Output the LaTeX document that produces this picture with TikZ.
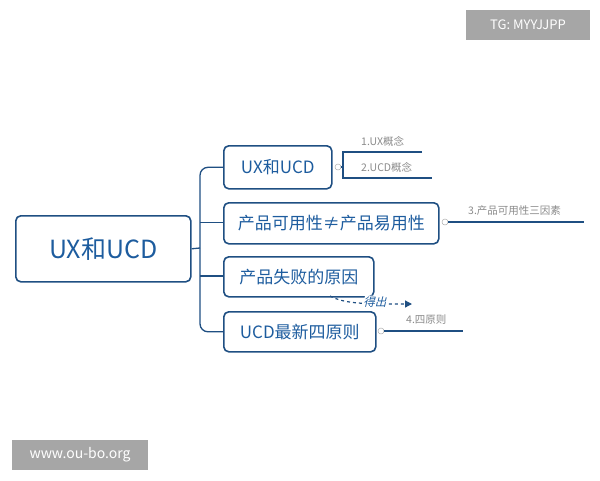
\documentclass[tikz,border=0pt]{standalone}
\usepackage{fontspec}
\setmainfont{Noto Sans CJK SC}
\usetikzlibrary{arrows.meta}
\definecolor{bd}{HTML}{1F4F82}
\definecolor{tx}{HTML}{1D5C9E}
\definecolor{gr}{HTML}{8A8A8A}
\begin{document}
\begin{tikzpicture}[x=1pt,y=-1pt,
  box/.style={draw=bd,line width=1.6pt,rounded corners=5pt,text=tx,inner sep=0pt,anchor=north west},
  lab/.style={text=gr,font=\fontsize{10.5}{11}\selectfont,anchor=west,inner sep=0pt},
  ln/.style={draw=bd,line width=1.3pt},
  dot/.style={circle,draw=gr!70,fill=white,inner sep=0pt,minimum size=6pt,line width=0.5pt},
  tag/.style={fill=gray!70,text=white,inner sep=0pt,font=\fontsize{13}{14}\selectfont}]
\useasboundingbox (0,0) rectangle (600,480);
\node[box,minimum width=175pt,minimum height=66pt,font=\fontsize{25}{27}\selectfont] (root) at (15,215) {UX和UCD};
\node[box,minimum width=108pt,minimum height=43pt,font=\fontsize{17}{18}\selectfont] (c1) at (223,145) {UX和UCD};
\node[box,minimum width=215pt,minimum height=41pt,font=\fontsize{17}{18}\selectfont] (c2) at (223,202) {产品可用性≠产品易用性};
\node[box,minimum width=150pt,minimum height=40pt,font=\fontsize{17}{18}\selectfont] (c3) at (223,256) {产品失败的原因};
\node[box,minimum width=152pt,minimum height=40pt,font=\fontsize{17}{18}\selectfont] (c4) at (223,311) {UCD最新四原则};
\coordinate (tr) at (200,248);
\draw[ln] (root.east) -- (tr);
\draw[ln,rounded corners=8pt] (c1.west) -| (tr) |- (c4.west);
\draw[ln] (200,222.5) -- (c2.west|-0,222.5);
\draw[ln] (200,276) -- (c3.west|-0,276);
% sub-branches
\node[dot] (d1) at (338,167) {};
\node[dot] (d2) at (445,222) {};
\node[dot] (d4) at (381,331) {};
\coordinate (b1) at (343,152); \coordinate (b2) at (343,178);
\coordinate (e1) at (422,152); \coordinate (e2) at (432,178);
\draw[ln] (e1) -- (b1) -- (b2) -- (e2);
\draw[ln] (d1.east) -- (343,167);
\node[lab] (l1) at (361,141) {1.UX概念};
\node[lab] (l2) at (361,167) {2.UCD概念};
\coordinate (e3) at (584,222);
\draw[ln] (d2.east) -- (e3);
\node[lab] (l3) at (468,211) {3.产品可用性三因素};
\coordinate (e4) at (463,331);
\draw[ln] (d4.east) -- (e4);
\node[lab] (l4) at (406,320) {4.四原则};
\coordinate (ar) at (412,304);
\draw[bd,line width=1.2pt,dashed,-{Triangle[length=7pt,width=7pt]}] (330,296) .. controls (345,304) and (365,304) .. (ar);
\node[text=tx,font=\fontsize{11.5}{12}\selectfont,fill=white,inner sep=1pt,xslant=0.25] (dc) at (376,302) {得出};
\node[tag,minimum width=124pt,minimum height=30pt] (tg) at (528,25) {TG: MYYJJPP};
\node[tag,minimum width=136pt,minimum height=30pt,font=\fontsize{14}{15}\selectfont] (ww) at (80,455) {www.ou-bo.org};
\end{tikzpicture}
\end{document}
